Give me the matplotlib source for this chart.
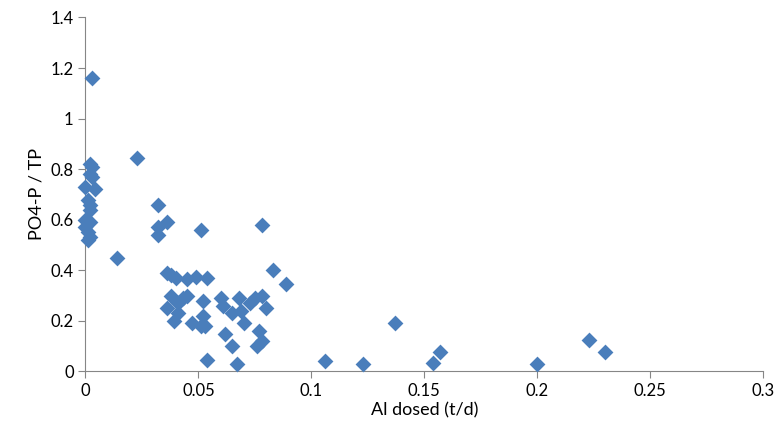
import matplotlib.pyplot as plt

plt.rcParams['font.family'] = ['Lato', 'DejaVu Sans']

al_dosed = [0.003, 0.002, 0.003, 0.002, 0.003, 0.000, 0.004, 0.001, 0.002, 0.002, 0.000, 0.002, 0.000, 0.001, 0.002, 0.001,
            0.014, 0.023, 0.032, 0.032, 0.032, 0.036, 0.051, 0.078,
            0.036, 0.038, 0.040, 0.045, 0.049, 0.054,
            0.036, 0.038, 0.041, 0.043, 0.045, 0.039, 0.041, 0.047,
            0.052, 0.052, 0.051, 0.053, 0.054,
            0.060, 0.062, 0.061, 0.065, 0.065, 0.068, 0.069, 0.070, 0.067,
            0.073, 0.075, 0.078, 0.077, 0.076, 0.078, 0.080, 0.083, 0.089,
            0.106, 0.123, 0.137, 0.154, 0.157, 0.200, 0.223, 0.230]
po4_tp = [1.16, 0.82, 0.81, 0.78, 0.77, 0.73, 0.72, 0.68, 0.66, 0.64, 0.60, 0.59, 0.57, 0.55, 0.53, 0.52,
          0.45, 0.845, 0.66, 0.57, 0.54, 0.59, 0.56, 0.58,
          0.39, 0.38, 0.37, 0.365, 0.375, 0.37,
          0.25, 0.30, 0.27, 0.29, 0.30, 0.20, 0.23, 0.19,
          0.28, 0.22, 0.18, 0.18, 0.045,
          0.29, 0.15, 0.26, 0.10, 0.23, 0.29, 0.24, 0.19, 0.03,
          0.27, 0.29, 0.30, 0.16, 0.10, 0.12, 0.25, 0.40, 0.345,
          0.04, 0.03, 0.19, 0.035, 0.075, 0.03, 0.125, 0.075]

fig, ax = plt.subplots(figsize=(7.77, 4.37), dpi=100)
fig.subplots_adjust(left=0.11, right=0.982, top=0.96, bottom=0.15)
ax.scatter(al_dosed, po4_tp, marker='D', s=65, color='#4a7ebb', linewidths=0, clip_on=False, zorder=3)
ax.set_xlim(0, 0.3)
ax.set_ylim(0, 1.4)
ax.set_xticks([0, 0.05, 0.1, 0.15, 0.2, 0.25, 0.3])
ax.set_xticklabels(['0', '0.05', '0.1', '0.15', '0.2', '0.25', '0.3'])
ax.set_yticks([0, 0.2, 0.4, 0.6, 0.8, 1, 1.2, 1.4])
ax.set_yticklabels(['0', '0.2', '0.4', '0.6', '0.8', '1', '1.2', '1.4'])
for s in ['top', 'right']:
    ax.spines[s].set_visible(False)
for s in ['left', 'bottom']:
    ax.spines[s].set_color('#868686')
ax.tick_params(colors='#868686', labelcolor='black', labelsize=12, length=5)
ax.set_xlabel('Al dosed (t/d)', fontsize=13, labelpad=2)
ax.set_ylabel('PO4-P / TP', fontsize=13)
plt.savefig('out.png')
